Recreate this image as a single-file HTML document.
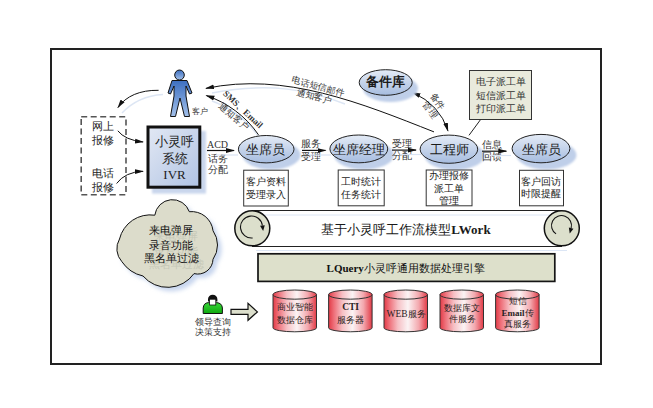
<!DOCTYPE html>
<html><head><meta charset="utf-8">
<style>
html,body{margin:0;padding:0;background:#fff;width:653px;height:408px;overflow:hidden}
svg{display:block}
svg{fill:#333}
text{font-family:"Liberation Serif",serif}
</style></head><body>
<svg width="653" height="408" viewBox="0 0 653 408">
<defs>
  <linearGradient id="gEll" x1="0" y1="0" x2="0" y2="1">
    <stop offset="0" stop-color="#e4ebf6"/>
    <stop offset="1" stop-color="#a6bcdf"/>
  </linearGradient>
  <linearGradient id="gIvr" x1="0" y1="0" x2="1" y2="1">
    <stop offset="0" stop-color="#e2e8f4"/>
    <stop offset="1" stop-color="#b0c3e3"/>
  </linearGradient>
  <linearGradient id="gCyl" x1="0" y1="0" x2="1" y2="0">
    <stop offset="0" stop-color="#e23a46"/>
    <stop offset="0.12" stop-color="#ee6e78"/>
    <stop offset="0.32" stop-color="#f6c0c5"/>
    <stop offset="0.55" stop-color="#fbf3f4"/>
    <stop offset="0.8" stop-color="#f3a8ae"/>
    <stop offset="1" stop-color="#e23a46"/>
  </linearGradient>
  <linearGradient id="gPer" x1="0" y1="0" x2="0" y2="1">
    <stop offset="0" stop-color="#3d6fc0"/>
    <stop offset="1" stop-color="#a2c0ea"/>
  </linearGradient>
  <marker id="ah" markerWidth="9" markerHeight="6" refX="8" refY="3" orient="auto" markerUnits="userSpaceOnUse">
    <path d="M0,0.6 L9,3 L0,5.4 Z" fill="#111"/>
  </marker>
  <marker id="ahs" markerWidth="9" markerHeight="6" refX="8" refY="3" orient="auto-start-reverse" markerUnits="userSpaceOnUse">
    <path d="M0,0.6 L9,3 L0,5.4 Z" fill="#111"/>
  </marker>
  <filter id="blur2" x="-30%" y="-30%" width="160%" height="160%"><feGaussianBlur stdDeviation="2"/></filter>
  <filter id="blur1" x="-30%" y="-30%" width="160%" height="160%"><feGaussianBlur stdDeviation="1"/></filter>
</defs>

<!-- outer frame -->
<rect x="51" y="49" width="550" height="315" fill="none" stroke="#222" stroke-width="2"/>

<!-- ===== top arrows to person ===== -->
<path d="M345,104 C310,90 270,82 212,93" fill="none" stroke="#dde6f4" stroke-width="1.5"/>
<path d="M434.0,131.9 C362.1,103.5 284.6,71.6 206.0,88.4" fill="none" stroke="#111" stroke-width="1" marker-end="url(#ah)"/>
<path d="M261,140 C249,122 231,108 212,101" fill="none" stroke="#dde6f4" stroke-width="1.5"/>
<path d="M258.5,134.8 C245.6,116.0 227.0,102.5 206.4,95.6" fill="none" stroke="#111" stroke-width="1" marker-end="url(#ah)"/>
<g font-size="9" dominant-baseline="central" text-anchor="middle">
  <text transform="translate(243,109.3) rotate(43)" font-weight="bold">SMS、Email</text>
  <text transform="translate(234.1,116.6) rotate(40)">通知客户</text>
  <text transform="translate(318,86.5) rotate(15)">电话短信邮件</text>
  <text transform="translate(314,96.5) rotate(15)">通知客户</text>
  <text transform="translate(437.5,101.7) rotate(55)">备件</text>
  <text transform="translate(430,110) rotate(55)">管理</text>
</g>
<path d="M412.5,92.3 Q440,105 447.9,130.8" fill="none" stroke="#111" stroke-width="1" marker-start="url(#ahs)" marker-end="url(#ah)"/>

<!-- ===== ellipse shadows ===== -->
<g fill="#bfcfe9" filter="url(#blur1)">
  <ellipse cx="271.5" cy="155" rx="29" ry="14.5"/>
  <ellipse cx="364" cy="155" rx="30" ry="14.5"/>
  <ellipse cx="454.5" cy="155.5" rx="30" ry="14.5"/>
  <ellipse cx="546.5" cy="155" rx="30" ry="14.5"/>
  <ellipse cx="390.5" cy="88.5" rx="27.5" ry="13.5"/>
</g>
<!-- ellipses -->
<g fill="url(#gEll)" stroke="#222" stroke-width="1">
  <ellipse cx="266.2" cy="149.2" rx="27.8" ry="13.7"/>
  <ellipse cx="358.8" cy="148.9" rx="28.9" ry="13.9"/>
  <ellipse cx="448.9" cy="149.2" rx="28.8" ry="14.1"/>
  <ellipse cx="541" cy="148.6" rx="28.9" ry="14.2"/>
  <ellipse cx="385.7" cy="82.5" rx="26.5" ry="12.8"/>
</g>
<g font-size="13" text-anchor="middle" dominant-baseline="central" style="fill:#1a1a1a">
  <text x="265.5" y="149.3">坐席员</text>
  <text x="358.8" y="149.2">坐席经理</text>
  <text x="449.3" y="149.3">工程师</text>
  <text x="541.3" y="149">坐席员</text>
  <text x="385.7" y="82.3" font-size="12.5" font-weight="bold">备件库</text>
</g>

<!-- boxes under ellipses -->
<g fill="#fff" stroke="#333" stroke-width="1">
  <rect x="243.7" y="170.2" width="44.6" height="35.8"/>
  <rect x="338.2" y="170" width="46" height="35.8"/>
  <rect x="426.2" y="170" width="45.8" height="35.8"/>
  <rect x="519.5" y="170.3" width="44" height="35.5"/>
</g>
<g font-size="10" text-anchor="middle" dominant-baseline="central" style="fill:#222">
  <text x="266" y="181.6">客户资料</text><text x="266" y="194.4">受理录入</text>
  <text x="361.2" y="181.8">工时统计</text><text x="361.2" y="194.5">任务统计</text>
  <text x="449" y="175.6">办理报修</text><text x="449" y="188">派工单</text><text x="449" y="200.9">管理</text>
  <text x="541.4" y="181.6">客户回访</text><text x="541.4" y="193.9">时限提醒</text>
</g>

<!-- ===== IVR box ===== -->
<rect x="152" y="131" width="54" height="62.6" fill="#c9d6ec" filter="url(#blur1)"/>
<rect x="148" y="127" width="51.8" height="60.2" fill="url(#gIvr)" stroke="#111" stroke-width="3"/>
<g font-size="13" text-anchor="middle" dominant-baseline="central" style="fill:#222">
  <text x="174.5" y="141">小灵呼</text>
  <text x="174.5" y="158.5">系统</text>
  <text x="174.5" y="174.5">IVR</text>
</g>

<!-- dashed box -->
<rect x="81.2" y="116.8" width="44.8" height="78" fill="none" stroke="#555" stroke-width="1.6" stroke-dasharray="6,3.5"/>
<g font-size="11" text-anchor="middle" dominant-baseline="central" style="fill:#222">
  <text x="103" y="125.6">网上</text><text x="103" y="139.8">报修</text>
  <text x="103" y="173.3">电话</text><text x="103" y="187.2">报修</text>
</g>
<g fill="none" stroke="#111" stroke-width="1">
  <path d="M117.8,130.8 Q125,140 143,142" marker-end="url(#ah)"/>
  <path d="M116.6,183.5 Q125,172 143,171.3" marker-end="url(#ah)"/>
</g>

<!-- person -->
<g stroke="#111" stroke-width="1" fill="url(#gPer)">
  <ellipse cx="179.5" cy="75" rx="4.8" ry="5"/>
  <path d="M172,80.5 L187,80.5 L192,93 L189.5,94 L186,86 L186,96 L189.5,116.5 L184.5,116.5 L180,98 L175.5,116.5 L170.5,116.5 L174,96 L174,86 L170.5,94 L168,93 Z"/>
</g>
<text x="192" y="111" font-size="8" dominant-baseline="central">客户</text>

<!-- left curved arrow -->
<path d="M163,94.5 Q138,96 122,113" fill="none" stroke="#dde6f4" stroke-width="1.5"/>
<path d="M158.6,90.3 C140,90 126,96 118,107.5" fill="none" stroke="#111" stroke-width="1" marker-end="url(#ah)"/>

<!-- horizontal flow arrows -->
<g font-size="10" text-anchor="middle" dominant-baseline="central">
  <text x="217.5" y="144.5">ACD</text><text x="217.5" y="158.3">话务</text><text x="217.5" y="169.8">分配</text>
  <text x="310.5" y="144.4" font-size="9.5">服务</text><text x="310.5" y="157" font-size="9.5">受理</text>
  <text x="402" y="144.4" font-size="9.5">受理</text><text x="402" y="156.2" font-size="9.5">分配</text>
  <text x="492" y="144.8" font-size="9.5">信息</text><text x="492" y="157.4" font-size="9.5">回馈</text>
</g>
<g stroke="#d9e3f3" stroke-width="1.2">
  <line x1="216" y1="155" x2="238" y2="155"/>
  <line x1="309" y1="155" x2="331" y2="155"/>
  <line x1="400" y1="154.5" x2="421" y2="154.5"/>
  <line x1="490" y1="155.5" x2="511" y2="155.5"/>
</g>
<g stroke="#111" stroke-width="1.2" marker-end="url(#ah)">
  <line x1="207" y1="150.5" x2="234" y2="150.5"/>
  <line x1="302" y1="150.4" x2="325.5" y2="150.4"/>
  <line x1="392" y1="150.1" x2="416" y2="150.1"/>
  <line x1="482" y1="151.2" x2="506.3" y2="151.2"/>
</g>

<!-- callout -->
<rect x="469.5" y="70.5" width="62" height="49" fill="#e9eadc" stroke="#333" stroke-width="1"/>
<line x1="480.4" y1="119.8" x2="469" y2="135.3" stroke="#222" stroke-width="1"/>
<g font-size="10" text-anchor="middle" dominant-baseline="central">
  <text x="500.5" y="81.4">电子派工单</text><text x="500.5" y="95">短信派工单</text><text x="500.5" y="108">打印派工单</text>
</g>

<!-- ===== belt ===== -->
<line x1="252" y1="215" x2="560" y2="215" stroke="#dce6f5" stroke-width="1"/>
<line x1="256" y1="250.5" x2="567" y2="250.5" stroke="#dce6f5" stroke-width="1"/>
<line x1="252" y1="210.5" x2="562" y2="210.5" stroke="#222" stroke-width="1.2"/>
<line x1="252" y1="246.5" x2="562" y2="246.5" stroke="#222" stroke-width="1.2"/>
<g fill="#dcdfcc" stroke="#111" stroke-width="1.5">
  <circle cx="252.3" cy="228.3" r="17.5"/>
  <circle cx="561.8" cy="228.3" r="17.5"/>
</g>
<path d="M252.65,237.94 A11.0,11.0 0 1 1 262.39,225.47" fill="none" stroke="#111" stroke-width="1.1"/>
<path d="M263.16,230.92 L264.77,225.14 L260.02,225.80 Z" fill="#111"/>
<path d="M556.05,233.89 A10.0,10.0 0 1 1 571.16,228.09" fill="none" stroke="#111" stroke-width="1.1"/>
<path d="M569.74,233.40 L573.48,228.71 L568.84,227.47 Z" fill="#111"/>
<text x="406" y="229" font-size="13" text-anchor="middle" dominant-baseline="central" style="fill:#1a1a1a">基于小灵呼工作流模型<tspan font-weight="bold">LWork</tspan></text>

<!-- LQuery bar -->
<rect x="258" y="253.8" width="296.8" height="27.6" fill="#dde0cb" stroke="#151515" stroke-width="1.7"/>
<text x="405.7" y="268" font-size="11" text-anchor="middle" dominant-baseline="central" style="fill:#111"><tspan font-weight="bold">LQuery</tspan>小灵呼通用数据处理引擎</text>

<!-- ===== cloud ===== -->
<path d="M154.8,215.2 A17.8,17.8 0 0 1 189.3,211.7 A21.5,21.5 0 0 1 213.0,230.7 A24.9,24.9 0 0 1 213.0,259.3 A15.2,15.2 0 0 1 194.0,273.6 A32.3,32.3 0 0 1 143.0,276.0 A34.7,34.7 0 0 1 121.9,261.7 A19.2,19.2 0 0 1 119.5,239.0 A31.6,31.6 0 0 1 154.8,215.2 Z" fill="#c8d6ee" transform="translate(4,4)" filter="url(#blur2)"/>
<path d="M154.8,215.2 A17.8,17.8 0 0 1 189.3,211.7 A21.5,21.5 0 0 1 213.0,230.7 A24.9,24.9 0 0 1 213.0,259.3 A15.2,15.2 0 0 1 194.0,273.6 A32.3,32.3 0 0 1 143.0,276.0 A34.7,34.7 0 0 1 121.9,261.7 A19.2,19.2 0 0 1 119.5,239.0 A31.6,31.6 0 0 1 154.8,215.2 Z" fill="#dcdccb" stroke="#111" stroke-width="1"/>
<g font-size="11" text-anchor="middle" dominant-baseline="central" style="fill:#c6c8b8">
  <text x="176" y="235.5">来电弹屏</text><text x="176" y="250.6">录音功能</text><text x="176" y="264.4">黑名单过滤</text>
</g>
<g font-size="11" text-anchor="middle" dominant-baseline="central" style="fill:#111">
  <text x="171" y="229.5">来电弹屏</text><text x="171" y="244.6">录音功能</text><text x="171" y="258.4">黑名单过滤</text>
</g>

<!-- ===== green person ===== -->
<defs><linearGradient id="gGr" x1="0" y1="0" x2="0" y2="1"><stop offset="0" stop-color="#3ad83a"/><stop offset="1" stop-color="#10a810"/></linearGradient></defs>
<g stroke="#111" stroke-width="1">
  <path d="M203.2,313.5 L203.2,308 Q203.5,303 208.5,302.6 L216.5,302.6 Q222,303 222.4,308 L222.4,313.5 Z" fill="url(#gGr)"/>
  <rect x="209.6" y="299" width="6.2" height="6" fill="#fff" stroke-width="0.8"/>
  <path d="M208,301.5 L208,299.2 A4.7,4.4 0 0 1 217.4,299.2 L217.4,301.5 L215.8,301.5 L215.8,299.5 L209.6,299.5 L209.6,301.5 Z" fill="#111" stroke="none"/>
</g>
<g font-size="8.5" text-anchor="middle" dominant-baseline="central">
  <text x="213" y="321.8">领导查询</text><text x="213" y="332">决策支持</text>
</g>
<!-- block arrow -->
<path d="M231,309.3 L248,309.3 L248,303.4 L257.4,311.9 L248,320.3 L248,314.4 L231,314.4 Z" fill="#dcdfcc" stroke="#111" stroke-width="1.2"/>

<!-- ===== cylinders ===== -->
<g stroke="#333" stroke-width="1">
  <path d="M273.0,294.6 A21.75,4.6 0 0 1 316.5,294.6 L316.5,327.8 A21.75,4 0 0 1 273.0,327.8 Z" fill="url(#gCyl)"/>
  <path d="M273.0,294.6 A21.75,4.6 0 0 0 316.5,294.6" fill="none"/>
  <path d="M328.6,294.6 A21.75,4.6 0 0 1 372.1,294.6 L372.1,327.8 A21.75,4 0 0 1 328.6,327.8 Z" fill="url(#gCyl)"/>
  <path d="M328.6,294.6 A21.75,4.6 0 0 0 372.1,294.6" fill="none"/>
  <path d="M384.0,294.6 A21.75,4.6 0 0 1 427.5,294.6 L427.5,327.8 A21.75,4 0 0 1 384.0,327.8 Z" fill="url(#gCyl)"/>
  <path d="M384.0,294.6 A21.75,4.6 0 0 0 427.5,294.6" fill="none"/>
  <path d="M440.0,294.6 A21.75,4.6 0 0 1 483.5,294.6 L483.5,327.8 A21.75,4 0 0 1 440.0,327.8 Z" fill="url(#gCyl)"/>
  <path d="M440.0,294.6 A21.75,4.6 0 0 0 483.5,294.6" fill="none"/>
  <path d="M495.6,294.6 A21.75,4.6 0 0 1 539.1,294.6 L539.1,327.8 A21.75,4 0 0 1 495.6,327.8 Z" fill="url(#gCyl)"/>
  <path d="M495.6,294.6 A21.75,4.6 0 0 0 539.1,294.6" fill="none"/>
</g>
<g font-size="8.5" text-anchor="middle" dominant-baseline="central" style="fill:#2a2222">
  <text x="295" y="307.4">商业智能</text><text x="295" y="319.7">数据仓库</text>
  <text x="350.6" y="307.4" font-weight="bold" font-size="9.5">CTI</text><text x="350.6" y="319.7">服务器</text>
  <text x="406" y="314"><tspan font-size="9.5">WEB</tspan>服务</text>
  <text x="462" y="308">数据库文</text><text x="462" y="319.4">件服务</text>
  <text x="517.5" y="300.6">短信</text><text x="517.5" y="313"><tspan font-weight="bold" font-size="9">Email</tspan>传</text><text x="517.5" y="324.4">真服务</text>
</g>
</svg>
</body></html>
